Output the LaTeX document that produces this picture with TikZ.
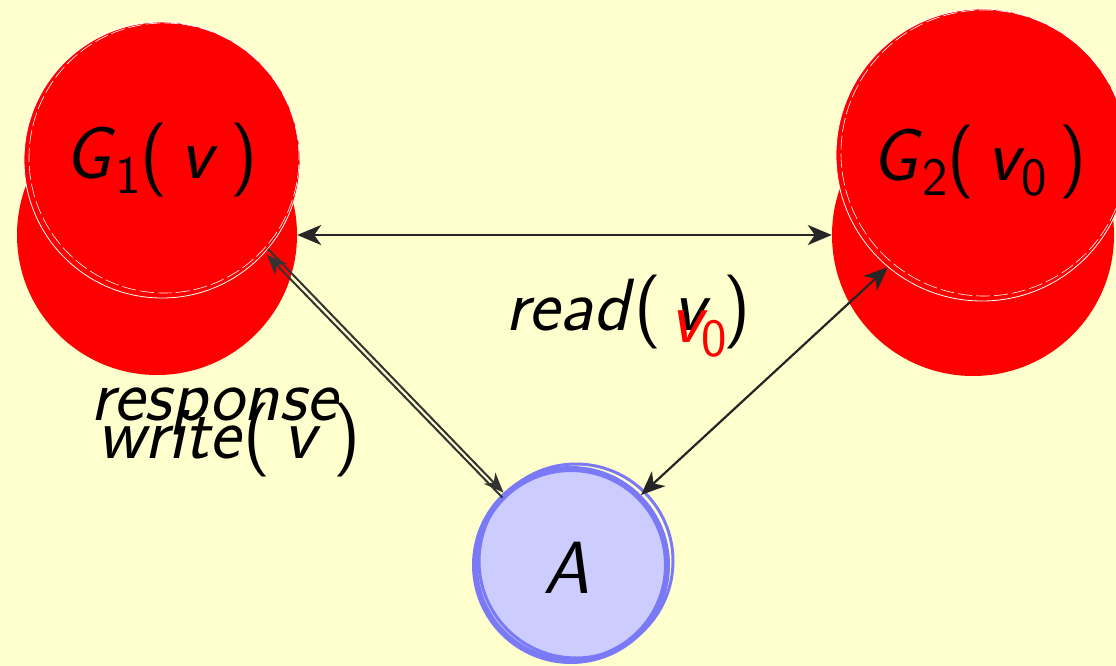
\documentclass[tikz,border=0pt]{standalone}
\usetikzlibrary{arrows.meta}
\definecolor{paper}{RGB}{255,255,206}
\definecolor{nodeblue}{RGB}{204,204,255}
\definecolor{ringblue}{RGB}{122,122,246}
% lowered index digit for the node labels
\newcommand\lowidx[1]{\raisebox{-0.2em}{\fontsize{54}{54}\selectfont #1}}
\newcommand\mvar[1]{\textit{#1}}
\begin{document}
\begin{tikzpicture}[x=1pt,y=-1pt,
  txt/.style={font=\fontsize{74}{80}\selectfont\sffamily, inner sep=0pt},
  reddisc/.style={circle, fill=red, inner sep=0pt},
  topdisc/.style={reddisc, draw=white, line width=0.8pt},
  ring/.style={circle, draw=white, line width=0.6pt, dash pattern=on 14pt off 4pt, inner sep=0pt},
  agent/.style={circle, fill=nodeblue, draw=ringblue, line width=6pt, minimum size=192pt, inner sep=0pt},
  link/.style={line width=2.5pt, draw=black!85, {Stealth[length=24pt,width=20pt,inset=7pt]}-{Stealth[length=24pt,width=20pt,inset=7pt]}},
  oneway/.style={line width=2pt, draw=black!80, -{Stealth[length=20pt,width=16pt,inset=6pt]}},
  plain/.style={line width=2pt, draw=black!80}]

\useasboundingbox[fill=paper] (0,0) rectangle (1116,666);

% lower discs
\node[reddisc, minimum size=280pt] (g1b) at (157,235) {};
\node[reddisc, minimum size=282pt] (g2b) at (973,235) {};

% upper discs with their labels
\node[topdisc, minimum size=276pt] (g1a) at (162,160) {};
\node[ring, minimum size=270pt] (g1r) at (164,158) {};
\node[topdisc, minimum size=292pt] (g2a) at (982,155) {};
\node[ring, minimum size=286pt] (g2r) at (984,153) {};

\node[txt] (g1t) at (161,160) {\mvar{G}\lowidx{1}(\,\mvar{v}\,)};
\node[txt] (g2t) at (979,162) {\mvar{G}\lowidx{2}(\,\mvar{v}\kern-3pt\lowidx{0}\,)};

% adversary node
\node[agent] (A) at (571,565) {};
\node[circle, draw=ringblue, line width=3pt, minimum size=194pt, inner sep=0pt] (Ar) at (576,561) {};
\node[txt] (At) at (567,568) {\mvar{A}};

% connectors
\draw[link] (g1b) -- (g2b);
\draw[oneway] (g1a.-40) -- (A.133);
\draw[oneway] ([xshift=-1pt,yshift=-5pt]A.133) -- ([xshift=-1pt,yshift=-6pt]g1a.-40);
\draw[link, line width=2.2pt] (g2a.-130) -- (A.45);

% labels
\node[txt, anchor=base west] (rd) at (505,330) {\mvar{read}(\,\mvar{v}\,)};
\node[txt, anchor=base west, text=red] (rv) at (670,342) {\mvar{v}\kern-6pt\lowidx{0}};
\node[txt, anchor=base west] (resp) at (90,420) {\mvar{response}};
\node[txt, anchor=base west] (wr) at (97,458) {\mvar{write}(\,\mvar{v}\,)};
\end{tikzpicture}
\end{document}
